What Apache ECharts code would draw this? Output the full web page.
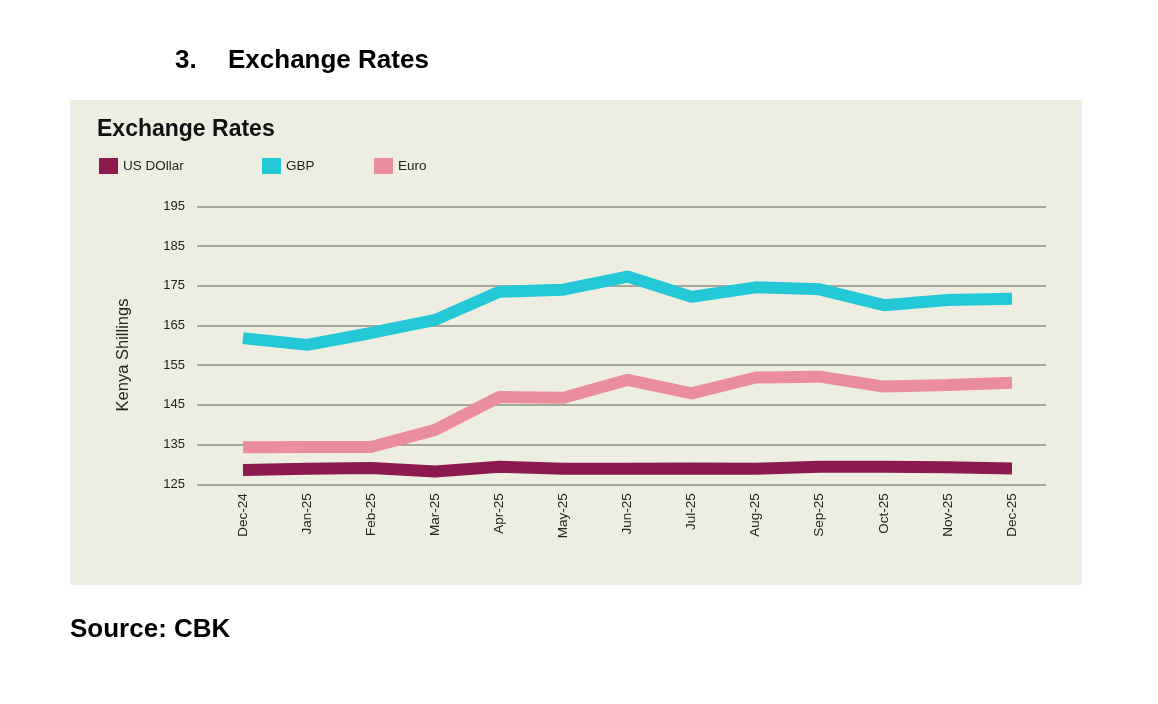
<!DOCTYPE html>
<html><head><meta charset="utf-8">
<script src="https://cdn.jsdelivr.net/npm/echarts@6/dist/echarts.min.js"></script>
<style>html,body{margin:0;padding:0;background:#fff}#c{width:1158px;height:704px}</style>
</head><body><div id="c"></div>
<script>
const categories = ['Dec-24','Jan-25','Feb-25','Mar-25','Apr-25','May-25','Jun-25','Jul-25','Aug-25','Sep-25','Oct-25','Nov-25','Dec-25'];
const usDollar = [128.6,128.9,129.1,128.2,129.4,128.9,128.9,129.0,128.9,129.4,129.4,129.3,129.0];
const gbp = [161.8,160.1,163.1,166.4,173.5,174.0,177.3,172.2,174.6,174.1,170.1,171.4,171.7];
const euro = [134.3,134.4,134.4,138.7,147.0,146.8,151.3,147.9,151.9,152.1,149.6,150.0,150.6];
const yTicks = {min:125, max:195, interval:10};

const chart = echarts.init(document.getElementById('c'));
const F = 'Liberation Sans, Arial, sans-serif';
const gTop = 206.3, gBottom = 704 - 484.3;
chart.setOption({
  backgroundColor: '#ffffff',
  animation: false,
  graphic: [
    {type:'rect', shape:{x:70,y:100,width:1012,height:485}, style:{fill:'#eeede2'}, z:-10},
    {type:'text', x:175, y:61, style:{text:'3.', font:'bold 26px '+F, fill:'#000', verticalAlign:'middle'}},
    {type:'text', x:228, y:61, style:{text:'Exchange Rates', font:'bold 26px '+F, fill:'#000', verticalAlign:'middle'}},
    {type:'text', x:97, y:130, style:{text:'Exchange Rates', font:'bold 23px '+F, fill:'#111', verticalAlign:'middle'}},
    {type:'text', x:123, y:355, rotation:Math.PI/2, style:{text:'Kenya Shillings', font:'16.5px '+F, fill:'#222', align:'center', verticalAlign:'middle'}},
    {type:'text', x:70, y:630, style:{text:'Source: CBK', font:'bold 26px '+F, fill:'#000', verticalAlign:'middle'}}
  ],
  legend: [
    {data:['US DOllar'], left:94, top:153, itemWidth:19, itemHeight:16, itemGap:6, icon:'rect', textStyle:{fontFamily:F, fontSize:13.5, color:'#222'}},
    {data:['GBP'], left:257, top:153, itemWidth:19, itemHeight:16, icon:'rect', textStyle:{fontFamily:F, fontSize:13.5, color:'#222'}},
    {data:['Euro'], left:369, top:153, itemWidth:19, itemHeight:16, icon:'rect', textStyle:{fontFamily:F, fontSize:13.5, color:'#222'}}
  ],
  grid: [
    {left:243, right:1158-1012, top:gTop, bottom:gBottom},
    {left:197, right:1158-1046, top:gTop, bottom:gBottom}
  ],
  xAxis: [
    {type:'category', gridIndex:0, data:categories, boundaryGap:false,
     axisLine:{show:false}, axisTick:{show:false},
     axisLabel:{rotate:90, margin:9, fontFamily:F, fontSize:13.5, color:'#222', interval:0}},
    {type:'value', gridIndex:1, show:false}
  ],
  yAxis: [
    {type:'value', gridIndex:0, min:yTicks.min, max:yTicks.max, interval:yTicks.interval, show:false},
    {type:'value', gridIndex:1, min:yTicks.min, max:yTicks.max, interval:yTicks.interval,
     axisLine:{show:false}, axisTick:{show:false},
     axisLabel:{margin:12, fontFamily:F, fontSize:13, color:'#222'},
     splitLine:{lineStyle:{color:'#8f8e86', width:1.5}}}
  ],
  series: [
    {name:'US DOllar', type:'line', data:usDollar, symbol:'none', xAxisIndex:0, yAxisIndex:0,
     color:'#8c1a4f', lineStyle:{width:12, cap:'butt'}},
    {name:'GBP', type:'line', data:gbp, symbol:'none', xAxisIndex:0, yAxisIndex:0,
     color:'#22c8d6', lineStyle:{width:12, cap:'butt'}},
    {name:'Euro', type:'line', data:euro, symbol:'none', xAxisIndex:0, yAxisIndex:0,
     color:'#ea8e9c', lineStyle:{width:12, cap:'butt'}}
  ]
});
</script></body></html>
